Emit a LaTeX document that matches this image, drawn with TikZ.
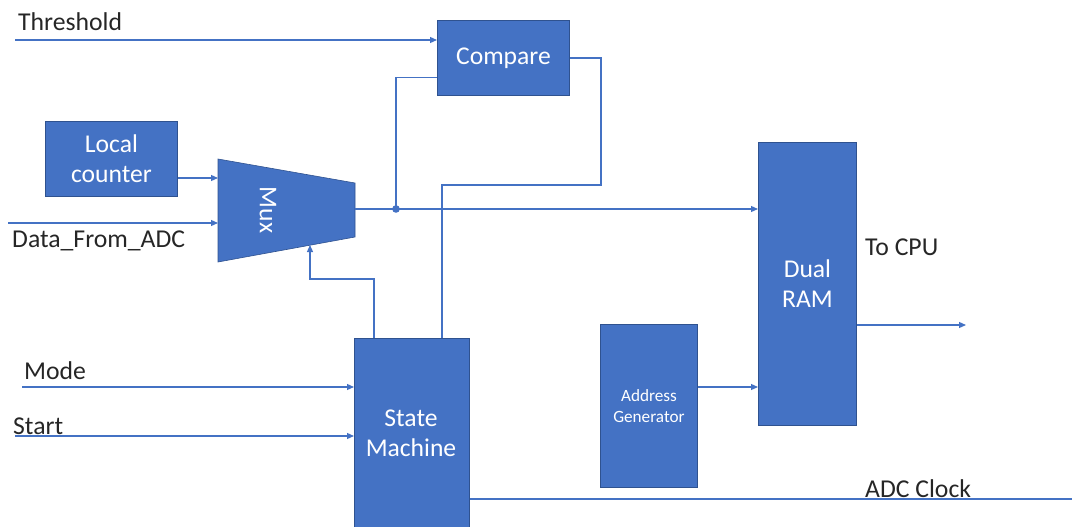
\documentclass[tikz,border=0pt]{standalone}
\usepackage{fontspec}
\setmainfont{Carlito}
\usetikzlibrary{arrows.meta,calc}
\definecolor{boxc}{HTML}{4472C4}
\definecolor{edgec}{HTML}{2F528F}
\definecolor{wirec}{HTML}{4472C4}
\tikzset{
  blk/.style={draw=edgec, line width=0.9pt, fill=boxc, text=white, anchor=north west,
    inner sep=0pt, align=center, font=\fontsize{25.6}{30}\selectfont},
  wire/.style={draw=wirec, line width=1.2pt},
  arr/.style={wire, -{Triangle[length=7pt,width=6pt]}},
  lbl/.style={anchor=base west, inner sep=0pt, text=black!85, font=\fontsize{25.7}{30}\selectfont},
}
\begin{document}
\begin{tikzpicture}[x=1pt,y=-1pt]
\useasboundingbox (0,0) rectangle (1085,527);

% functional blocks
\node[blk, minimum width=132pt, minimum height=75pt] (cmp) at (437,20) {Compare};
\node[blk, minimum width=132pt, minimum height=75pt] (cnt) at (45,121) {Local\\counter};
\node[blk, minimum width=115pt, minimum height=200pt] (sm) at (354,338) {};
\node[text=white, align=center, font=\fontsize{25.6}{30}\selectfont] (smt) at (411,433) {State\\Machine};
\node[blk, minimum width=97pt, minimum height=163pt, font=\fontsize{17.2}{21}\selectfont] (ag) at (600,324) {Address\\Generator};
\node[blk, minimum width=98pt, minimum height=283pt] (ram) at (758,142) {Dual\\RAM};

% multiplexer (trapezoid)
\coordinate (mtl) at (218,159);
\coordinate (mbl) at (218,262);
\coordinate (mtr) at (355,183);
\coordinate (mbr) at (355,237);
\fill[boxc] (mtl) -- (mtr) -- (mbr) -- (mbl) -- cycle;
\draw[edgec, line width=0.6pt] (mtl) -- (mtr) -- (mbr) -- (mbl) -- cycle;
\node[rotate=-90, text=white, font=\fontsize{25.6}{30}\selectfont] (mux) at (268,210) {Mux};
\coordinate (muxa) at (218,178);
\coordinate (muxb) at (218,223);
\coordinate (muxo) at (355,209);
\coordinate (muxs) at (310,245);

% external signals
\node[lbl] (thr) at (18,31) {Threshold};
\node[lbl] (dfa) at (12,247) {Data\_From\_ADC};
\node[lbl] (mode) at (24,379) {Mode};
\node[lbl] (start) at (13,434) {Start};
\node[lbl] (cpu) at (865,255) {To CPU};
\node[lbl] (clk) at (865,497) {ADC Clock};

\coordinate (thrin) at (15,40);
\coordinate (dfain) at (8,223);
\coordinate (modein) at (22,387);
\coordinate (startin) at (15,436);
\coordinate (cpuout) at (966,325);
\coordinate (clkout) at (1072,499);
\coordinate (tap) at (396,209);

% connectors
\draw[arr] (thrin) -- (thrin -| cmp.west);
\draw[arr] (cnt.east |- muxa) -- (muxa);
\draw[arr] (dfain) -- (muxb);
\draw[arr] (muxo) -- (muxo -| ram.west);
\fill[wirec] (tap) circle (3.8pt);
\draw[wire] ([yshift=-19.5pt]cmp.west) -| (tap);
\draw[wire] (cmp.east) -- ++(31,0) |- (442,185) -- (442,338);
\draw[arr] (374,338) -- (374,279) -| (muxs);
\draw[arr] (modein) -- (modein -| sm.west);
\draw[arr] (startin) -- (startin -| sm.west);
\draw[wire] (clkout -| sm.east) -- (clkout);
\draw[arr] (ag.east |- 0,387) -- (ram.west |- 0,387);
\draw[arr] (ram.east |- cpuout) -- (cpuout);
\end{tikzpicture}
\end{document}
